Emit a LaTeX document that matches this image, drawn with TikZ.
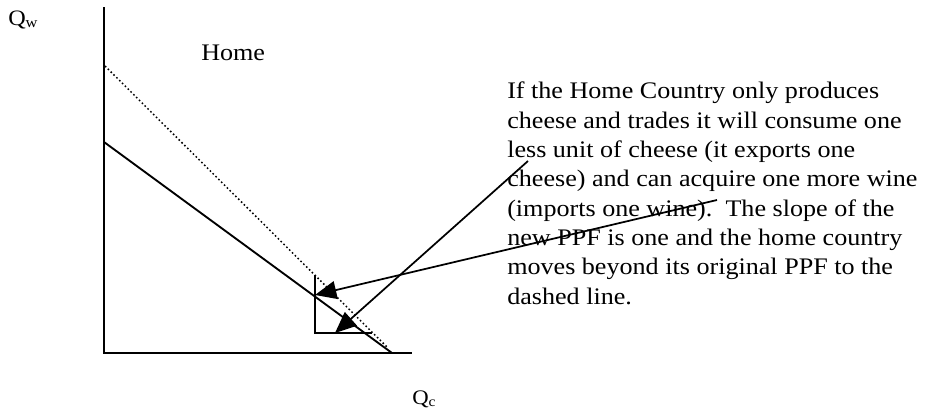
\documentclass[tikz,border=0pt]{standalone}
\usepackage{fontspec}
\setmainfont{Liberation Serif}[FakeStretch=1.1]
\usetikzlibrary{arrows.meta}
\newcommand\lowsub[1]{\raisebox{-0.12em}{\scalebox{0.68}{#1}}}
\begin{document}
\begin{tikzpicture}[x=0.75pt,y=-0.75pt,
  axisline/.style={line width=1.3pt},
  ppfline/.style={line width=1.4pt},
  dotline/.style={line width=1.1pt, dash pattern=on 1.2pt off 1.8pt},
  pointer/.style={line width=1.3pt, -{Triangle[length=16pt,width=13.5pt]}},
  lbl/.style={inner sep=0pt, font=\fontsize{17.8pt}{22pt}\selectfont}]
\useasboundingbox (0,0) rectangle (927,414);
% axes
\coordinate (ytop) at (104,7);
\coordinate (O) at (104,353);
\coordinate (xend) at (412,353);
\draw[axisline] (ytop) -- (O) -- (xend);
\coordinate (thickA) at (334,353);
\coordinate (thickB) at (392,353);
\draw[line width=2.2pt] (thickA) -- (thickB);
% PPFs
\coordinate (ppfTop) at (104,142);
\coordinate (ppfEnd) at (392,353);
\draw[ppfline] (ppfTop) -- (ppfEnd);
\coordinate (dotTop) at (105,66);
\coordinate (dotEnd) at (388,348);
\draw[dotline] (dotTop) -- (dotEnd);
% trade triangle
\coordinate (triTop) at (315,275);
\coordinate (triCorner) at (315,333);
\coordinate (triRight) at (372,333);
\draw[axisline] (triTop) -- (triCorner) -- (triRight);
% labels
\node[lbl, anchor=base west, font=\fontsize{16.5pt}{17pt}\selectfont] (qw) at (8,25) {Q\lowsub{w}};
\node[lbl, anchor=base west, font=\fontsize{15.5pt}{17pt}\selectfont] (qc) at (412,404) {Q\lowsub{c}};
\node[lbl, anchor=base west] (home) at (201,60) {Home};
\node[lbl, anchor=north west, align=left] (expl) at (507,82) {If the Home Country only produces\\
cheese and trades it will consume one\\
less unit of cheese (it exports one\\
cheese) and can acquire one more wine\\
(imports one wine).\ \ The slope of the\\
new PPF is one and the home country\\
moves beyond its original PPF to the\\
dashed line.};
% arrows
\coordinate (a1start) at (717,200);
\coordinate (a1tip) at (315,295);
\coordinate (a2start) at (528,161);
\coordinate (a2tip) at (335,333);
\draw[pointer] (a1start) -- (a1tip);
\draw[pointer] (a2start) -- (a2tip);
\end{tikzpicture}
\end{document}
